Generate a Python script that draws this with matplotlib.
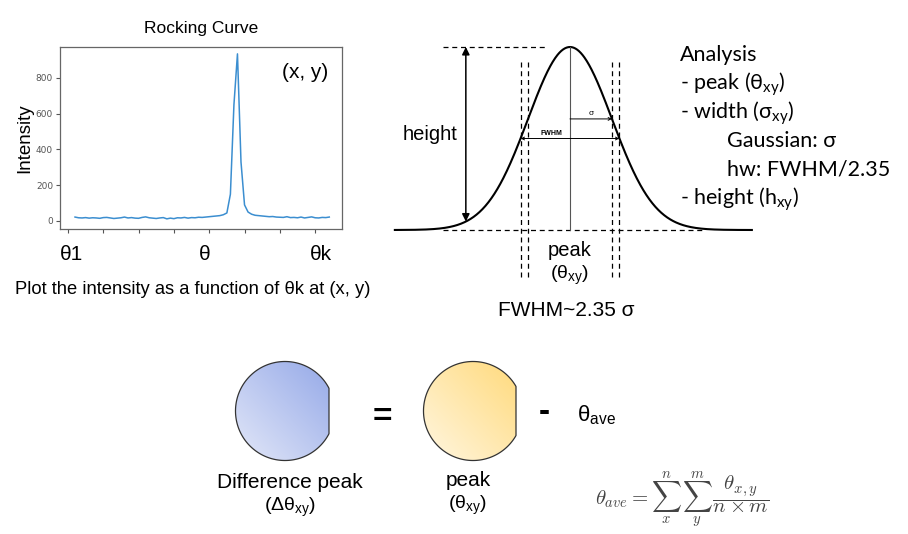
import numpy as np
import matplotlib
matplotlib.use("Agg")
import matplotlib.pyplot as plt
from matplotlib.colors import LinearSegmentedColormap
from matplotlib.path import Path
from matplotlib.patches import PathPatch

# ---------------- data ----------------
theta_ticks = [0, 20, 40, 60, 80, 100, 120, 140]
theta_tick_labels = ["θ1", "θ", "θk"]
theta_label_ticks = [0, 80, 140]
intensity_ticks = [0, 200, 400, 600, 800]
theta_step = 2
theta_start = 4
intensity = [22, 18, 17, 19, 16, 18, 17, 15, 19, 20,
             17, 14, 16, 18, 22, 17, 19, 16, 15, 20,
             23, 18, 16, 14, 17, 19, 12, 16, 13, 18,
             17, 20, 16, 19, 18, 21, 20, 22, 24, 26,
             28, 30, 35,
             45, 150, 650, 935, 330, 90, 50, 38, 32, 30,
             28, 26, 24, 25, 22, 21, 20, 24, 19, 20,
             18, 22, 17, 20, 23, 18, 17, 20, 19, 22]
theta = theta_start + theta_step * np.arange(len(intensity))

# Gaussian schematic (sigma units, normalized height)
gauss_center = 0.0
gauss_sigma = 1.0
gauss_height = 1.0
fwhm_factor = 2.35

analysis_lines = ["Analysis", "- peak (θ$_\\mathregular{xy}$)", "- width (σ$_\\mathregular{xy}$)",
                  "Gaussian: σ", "hw: FWHM/2.35", "- height (h$_\\mathregular{xy}$)"]
analysis_indent = [0, 0, 0, 1, 1, 0]

W, H = 908, 534
fig = plt.figure(figsize=(W / 100, H / 100), dpi=100)
fig.patch.set_facecolor("white")

def rect(l, t, r, b):
    return [l / W, 1 - b / H, (r - l) / W, (b - t) / H]

ARIAL = ["Liberation Sans", "DejaVu Sans"]
CAL = ["Lato", "DejaVu Sans"]

# ---------------- rocking curve ----------------
ax = fig.add_axes(rect(60, 47, 342, 229))
ax.plot(theta, intensity, color="#3b8ed0", lw=1.1)
ax.set_xlim(-4.5, 155.2)
ax.set_ylim(-44.8, 973.4)
ax.set_xticks(theta_ticks)
ax.set_xticklabels([])
ax.set_yticks(intensity_ticks)
ax.set_yticklabels([str(v) for v in intensity_ticks], fontsize=6.5, color="#555555")
ax.tick_params(axis="both", direction="out", length=3, width=0.8, color="#555555", pad=2)
for s in ax.spines.values():
    s.set_color("#666666")
    s.set_linewidth(0.9)
ax.set_ylabel("Intensity", fontsize=13.5, family=ARIAL, labelpad=2)
ax.set_title("Rocking Curve", fontsize=12.5, family=ARIAL, pad=10)
ax.text(0.95, 0.86, "(x, y)", transform=ax.transAxes, ha="right", va="center",
        fontsize=15, family=ARIAL)
for lab, tk, dx in zip(theta_tick_labels, theta_label_ticks, [4, -5, 6]):
    ax.annotate(lab, xy=(tk, 0), xycoords=("data", "axes fraction"),
                xytext=(dx, -26), textcoords="offset pixels", ha="center", va="center",
                fontsize=15, family=ARIAL, annotation_clip=False)

# ---------------- Gaussian schematic ----------------
sig_px = 42.0
gx0, gx1 = 380, 770
gy_top, gy_bot = 40, 330
cx_px, base_px, peak_px = 570, 230, 47
gax = fig.add_axes(rect(gx0, gy_top, gx1, gy_bot))
gax.set_xlim((gx0 - cx_px) / sig_px, (gx1 - cx_px) / sig_px)
ygain = base_px - peak_px
gax.set_ylim((base_px - gy_bot) / ygain, (base_px - gy_top) / ygain)
gax.axis("off")

def gauss(u):
    return gauss_height * np.exp(-0.5 * ((u - gauss_center) / gauss_sigma) ** 2)

u = np.linspace(-4.17, 4.33, 600)
half = fwhm_factor / 2 * gauss_sigma
gax.plot([-3.02, 3.17], [0, 0], color="black", lw=0.9, ls=(0, (4, 3)))
gax.plot(u, gauss(u), color="black", lw=1.5)
gax.plot([-3.02, -0.55], [gauss_height] * 2, color="black", lw=0.9, ls=(0, (4, 3)))
gax.plot([gauss_center] * 2, [0, gauss_height], color="#555555", lw=0.8)
for xv in [-half, -gauss_sigma, gauss_sigma, half]:
    gax.plot([xv, xv], [0.918, -0.273], color="black", lw=0.9, ls=(0, (4, 3)))
ha_u = -2.48
gax.annotate("", xy=(ha_u, gauss(ha_u)), xytext=(ha_u, gauss_height),
             arrowprops=dict(arrowstyle="<|-|>", mutation_scale=11, lw=1.1, color="black",
                             shrinkA=0, shrinkB=0))
gax.annotate("", xy=(half, 0.5), xytext=(-half, 0.5),
             arrowprops=dict(arrowstyle="<->", mutation_scale=5, lw=0.7, color="black",
                             shrinkA=0, shrinkB=0))
gax.annotate("", xy=(gauss_sigma, 0.607), xytext=(gauss_center, 0.607),
             arrowprops=dict(arrowstyle="->", mutation_scale=5, lw=0.7, color="black",
                             shrinkA=0, shrinkB=0))
gax.text(-0.45, 0.53, "FWHM", fontsize=5, fontweight="bold", ha="center", va="center", family=ARIAL)
gax.text(0.5, 0.635, "σ", fontsize=6, ha="center", va="center", family=ARIAL)
gax.text(-3.33, 0.52, "height", fontsize=14.5, ha="center", va="center", family=ARIAL, clip_on=False)
gax.text(0, -0.11, "peak", fontsize=14.5, ha="center", va="center", family=ARIAL, clip_on=False)
gax.text(0, -0.25, "(θ$_\\mathregular{xy}$)", fontsize=14, ha="center", va="center",
         family=ARIAL, clip_on=False)

# ---------------- overlay (pixel coordinates) ----------------
ov = fig.add_axes([0, 0, 1, 1], zorder=5)
ov.patch.set_alpha(0)
ov.axis("off")

ov.text(193, 290, "Plot the intensity as a function of θk at (x, y)", fontsize=13.2,
        ha="center", va="center", family=ARIAL)
ov.text(566, 311, "FWHM~2.35 σ", fontsize=15, ha="center", va="center", family=ARIAL)

ys = [55, 84, 113, 141, 170, 199]
for line, ind, yv in zip(analysis_lines, analysis_indent, ys):
    ov.text(680 + 47 * ind, yv, line, fontsize=15.5, ha="left", va="center", family=CAL)

def gradient_circle(cx, cy, r, xclip, c_light, c_dark):
    t = np.linspace(0, 2 * np.pi, 400)
    xs = np.minimum(cx + r * np.cos(t), xclip)
    yy = cy + r * np.sin(t)
    path = Path(np.column_stack([xs, yy]), closed=True)
    cmap = LinearSegmentedColormap.from_list("g", [c_light, c_dark])
    n = 120
    uu, vv = np.meshgrid(np.linspace(0, 1, n), np.linspace(0, 1, n))
    g = (uu + 1 - vv) / 2
    im = ov.imshow(g, cmap=cmap, extent=(cx - r, xclip, cy + r, cy - r), origin="upper",
                   aspect="auto", interpolation="bilinear")
    patch = PathPatch(path, facecolor="none", edgecolor="#333333", lw=0.9)
    ov.add_patch(patch)
    im.set_clip_path(patch)

gradient_circle(285, 411, 49.5, 329, "#e2e7f8", "#95a9e8")
gradient_circle(473, 411, 49.5, 516, "#fff6e0", "#ffda7c")

ov.text(382, 418, "=", fontsize=24, fontweight="bold", ha="center", va="center", family=ARIAL)
ov.text(544, 413, "-", fontsize=24, fontweight="bold", ha="center", va="center", family=ARIAL)
ov.text(577, 415, "θ$_\\mathregular{ave}$", fontsize=16, ha="left", va="center", family=ARIAL)

ov.text(290, 482, "Difference peak", fontsize=15, ha="center", va="center", family=ARIAL)
ov.text(290, 507, "(Δθ$_\\mathregular{xy}$)", fontsize=14, ha="center", va="center", family=ARIAL)
ov.text(468, 481, "peak", fontsize=15, ha="center", va="center", family=ARIAL)
ov.text(468, 505, "(θ$_\\mathregular{xy}$)", fontsize=14, ha="center", va="center", family=ARIAL)

ov.text(595, 500, r"$\theta_{ave} = \sum_{x}^{n}\,\sum_{y}^{m}\,\dfrac{\theta_{x,y}}{n \times m}$",
        fontsize=15, ha="left", va="center", color="#444444", math_fontfamily="cm")

ov.set_xlim(0, W)
ov.set_ylim(H, 0)

fig.savefig("out.png", dpi=100, facecolor="white")
